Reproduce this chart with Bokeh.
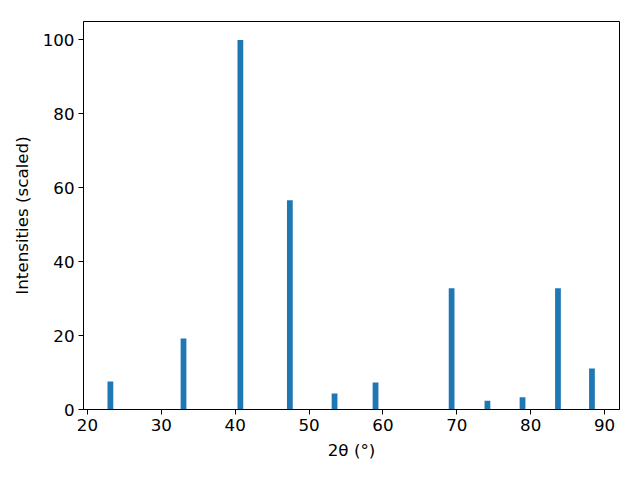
from bokeh.plotting import figure
from bokeh.models import Range1d, FixedTicker
from bokeh.embed import file_html
from bokeh.resources import INLINE

two_theta = [23.1, 33.0, 40.7, 47.4, 53.45, 59.0, 69.3, 74.15, 78.9, 83.7, 88.3]
intensity = [7.6, 19.2, 100.0, 56.6, 4.3, 7.3, 32.8, 2.4, 3.3, 32.8, 11.1]
x_ticks = [20, 30, 40, 50, 60, 70, 80, 90]
y_ticks = [0, 20, 40, 60, 80, 100]

p = figure(width=640, height=480, output_backend="svg", toolbar_location=None,
           x_range=Range1d(19.46, 92.03), y_range=Range1d(0, 105),
           min_border_left=83, min_border_right=21, min_border_top=21, min_border_bottom=71)

p.vbar(x=two_theta, top=intensity, width=0.78, color="#1f77b4", line_color=None)

p.xgrid.grid_line_color = None
p.ygrid.grid_line_color = None
p.outline_line_color = "black"
p.outline_line_alpha = 1
p.outline_line_width = 1

p.xaxis.ticker = FixedTicker(ticks=x_ticks)
p.yaxis.ticker = FixedTicker(ticks=y_ticks)
p.xaxis.axis_label = "2θ (°)"
p.yaxis.axis_label = "Intensities (scaled)"
for ax in (p.xaxis, p.yaxis):
    ax.axis_label_text_font = "DejaVu Sans"
    ax.axis_label_text_font_style = "normal"
    ax.axis_label_text_font_size = "16.7px"
    ax.axis_label_text_color = "black"
    ax.major_label_text_font = "DejaVu Sans"
    ax.major_label_text_font_size = "16.7px"
    ax.major_label_text_color = "black"
    ax.minor_tick_line_color = None
    ax.major_tick_in = 0
    ax.major_tick_out = 5
    ax.major_tick_line_color = "black"
    ax.axis_line_color = "black"
p.xaxis.axis_label_standoff = 6
p.yaxis.axis_label_standoff = 8
p.xaxis.major_label_standoff = 4
p.yaxis.major_label_standoff = 4

open("out.html", "w").write(file_html(p, INLINE))
